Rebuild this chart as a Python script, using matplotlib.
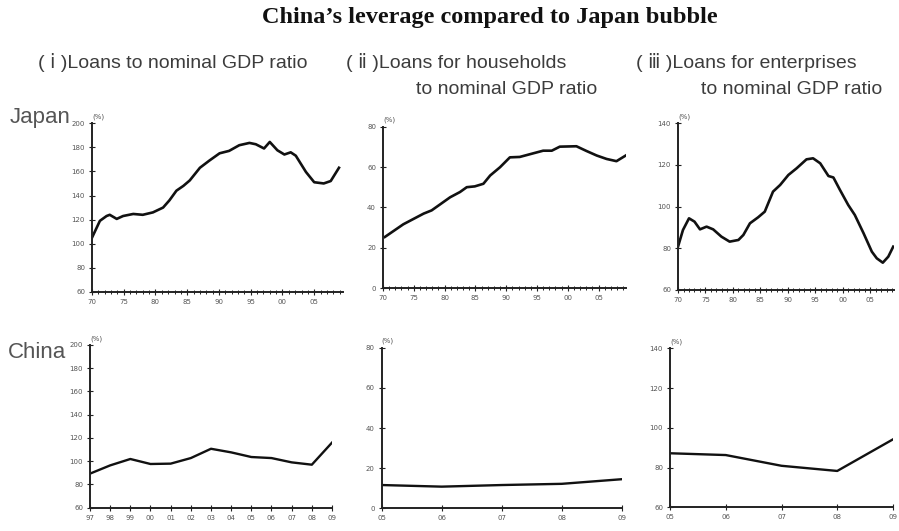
import matplotlib
matplotlib.use("Agg")
import matplotlib.pyplot as plt

# Japan, 1970-2009
japan_total_years = [1970.0, 1971.25, 1972.3, 1972.8, 1973.9, 1974.9, 1976.5, 1978.0, 1979.6,
                     1981.2, 1982.2, 1983.3, 1984.4, 1985.4, 1987.0, 1988.5, 1990.1, 1991.6,
                     1993.2, 1994.8, 1995.8, 1997.1, 1998.0, 1999.2, 2000.3, 2001.3, 2002.1,
                     2003.7, 2005.0, 2006.5, 2007.6, 2008.9]
japan_total = [105, 119, 123, 124, 120.6, 123, 124.7, 124, 126,
               130, 136, 144, 148, 152.5, 163, 169, 175, 177,
               181.7, 183.6, 182.5, 179, 184.4, 177.5, 174, 175.8, 173,
               159.5, 151, 150, 152, 163]

japan_house_years = [1970.3, 1973.3, 1976.6, 1977.9, 1980.9, 1982.5, 1983.6, 1984.9, 1986.3,
                     1987.4, 1989.0, 1990.6, 1992.2, 1994.4, 1996.0, 1997.4, 1998.7, 2001.4,
                     2003.0, 2004.7, 2006.3, 2007.9, 2009.4]
japan_house = [25.3, 31.6, 36.9, 38.5, 45, 47.6, 50, 50.4, 51.7,
               55.8, 59.9, 64.8, 65, 66.8, 68.1, 68.1, 70.1, 70.3,
               68, 65.7, 64, 62.9, 65.7]

japan_corp_years = [1970.0, 1970.9, 1972.0, 1973.0, 1974.0, 1975.2, 1976.4, 1977.9, 1979.4,
                    1981.0, 1981.9, 1983.1, 1984.6, 1985.8, 1987.3, 1988.6, 1990.1, 1991.6,
                    1993.4, 1994.6, 1995.9, 1997.4, 1998.3, 1999.5, 2001.0, 2002.2, 2003.8,
                    2005.3, 2006.2, 2007.3, 2008.3, 2009.2]
japan_corp = [80.8, 88.8, 94.4, 92.8, 89.1, 90.4, 89.1, 85.6, 83.2,
              84, 86.4, 92, 94.9, 97.6, 107.2, 110.4, 115.2, 118.4,
              122.7, 123.2, 120.8, 114.7, 114, 108, 100.8, 96, 87.2,
              78.4, 75.2, 73.1, 76, 80.8]

# China, annual
china_total_years = list(range(1997, 2010))
china_total = [89.3, 96.4, 101.9, 97.6, 97.9, 102.7, 110.7, 107.6, 103.6, 102.7, 99, 97, 116]

china_years = [2005, 2006, 2007, 2008, 2009]
china_house = [11.6, 10.8, 11.6, 12.2, 14.5]
china_corp = [87.2, 86.3, 80.9, 78.3, 94.2]

japan_xticks = [1970, 1975, 1980, 1985, 1990, 1995, 2000, 2005]
japan_xlabels = ["70", "75", "80", "85", "90", "95", "00", "05"]
china_total_xlabels = ["97", "98", "99", "00", "01", "02", "03", "04", "05", "06", "07", "08", "09"]
china_xlabels = ["05", "06", "07", "08", "09"]

TXT = "#3c3c3c"


def style_axis(ax, xlim, ylim, yticks, xticks, xlabels, minor_years=None):
    ax.set_xlim(*xlim)
    ax.set_ylim(*ylim)
    ax.set_yticks(yticks)
    ax.set_yticklabels([str(v) for v in yticks])
    ax.set_xticks(xticks)
    ax.set_xticklabels(xlabels)
    if minor_years is not None:
        ax.set_xticks(minor_years, minor=True)
    for side in ["top", "right"]:
        ax.spines[side].set_visible(False)
    for side in ["left", "bottom"]:
        ax.spines[side].set_linewidth(1.4)
        ax.spines[side].set_color("#222222")
    ax.tick_params(axis="both", which="major", direction="inout", length=4, width=0.8,
                   labelsize=5, colors="#222222", labelcolor="#555555", pad=3)
    ax.tick_params(axis="x", which="minor", direction="inout", length=3, width=0.7, colors="#222222")
    ax.text(0.0, 1.02, "(%)", transform=ax.transAxes, fontsize=5, color="#555555",
            ha="left", va="bottom")


fig = plt.figure(figsize=(8.99, 5.31), dpi=100)
fig.patch.set_facecolor("white")

# top row: Japan
ax1 = fig.add_axes([0.1023, 0.4501, 0.279, 0.318])
ax1.plot(japan_total_years, japan_total, color="#111111", lw=1.9)
style_axis(ax1, (1970, 2009.5), (60, 200), list(range(60, 201, 20)), japan_xticks, japan_xlabels,
           minor_years=list(range(1970, 2010)))

ax2 = fig.add_axes([0.426, 0.4576, 0.270, 0.3038])
ax2.plot(japan_house_years, japan_house, color="#111111", lw=1.9)
style_axis(ax2, (1970, 2009.4), (0, 80), list(range(0, 81, 20)), japan_xticks, japan_xlabels,
           minor_years=list(range(1970, 2010)))

ax3 = fig.add_axes([0.7542, 0.4539, 0.240, 0.3139])
ax3.plot(japan_corp_years, japan_corp, color="#111111", lw=1.9)
style_axis(ax3, (1970, 2009.3), (60, 140), list(range(60, 141, 20)), japan_xticks, japan_xlabels,
           minor_years=list(range(1970, 2010)))

# bottom row: China
ax4 = fig.add_axes([0.1001, 0.0439, 0.2692, 0.3064])
ax4.plot(china_total_years, china_total, color="#111111", lw=1.7)
style_axis(ax4, (1997, 2009), (60, 200), list(range(60, 201, 20)), china_total_years, china_total_xlabels)

ax5 = fig.add_axes([0.4246, 0.0427, 0.267, 0.3025])
ax5.plot(china_years, china_house, color="#111111", lw=1.7)
style_axis(ax5, (2005, 2009), (0, 80), list(range(0, 81, 20)), china_years, china_xlabels)

ax6 = fig.add_axes([0.7453, 0.0446, 0.248, 0.2994])
ax6.plot(china_years, china_corp, color="#111111", lw=1.7)
style_axis(ax6, (2005, 2009), (60, 140), list(range(60, 141, 20)), china_years, china_xlabels)

# titles
fig.text(490 / 899, 1 - 18 / 531, "China\u2019s leverage compared to Japan bubble", ha="center", va="center",
         fontsize=17.5, fontweight="bold", family="Liberation Serif", color="#111111")

fam = ["Liberation Sans", "DejaVu Sans"]
fig.text(38 / 899, 1 - 63 / 531, "( \u2170 )Loans to nominal GDP ratio", ha="left", va="center",
         fontsize=14, family=fam, color=TXT)
fig.text(456 / 899, 1 - 63 / 531, "( \u2171 )Loans for households", ha="center", va="center",
         fontsize=14, family=fam, color=TXT)
fig.text(597 / 899, 1 - 90 / 531, "to nominal GDP ratio", ha="right", va="center",
         fontsize=14, family=fam, color=TXT)
fig.text(746 / 899, 1 - 63 / 531, "( \u2172 )Loans for enterprises", ha="center", va="center",
         fontsize=14, family=fam, color=TXT)
fig.text(882 / 899, 1 - 90 / 531, "to nominal GDP ratio", ha="right", va="center",
         fontsize=14, family=fam, color=TXT)

fig.text(10 / 899, 1 - 117 / 531, "Japan", ha="left", va="center", fontsize=16, family=fam, color="#555555")
fig.text(8 / 899, 1 - 352 / 531, "China", ha="left", va="center", fontsize=16, family=fam, color="#555555")

fig.savefig("out.png", dpi=100)
